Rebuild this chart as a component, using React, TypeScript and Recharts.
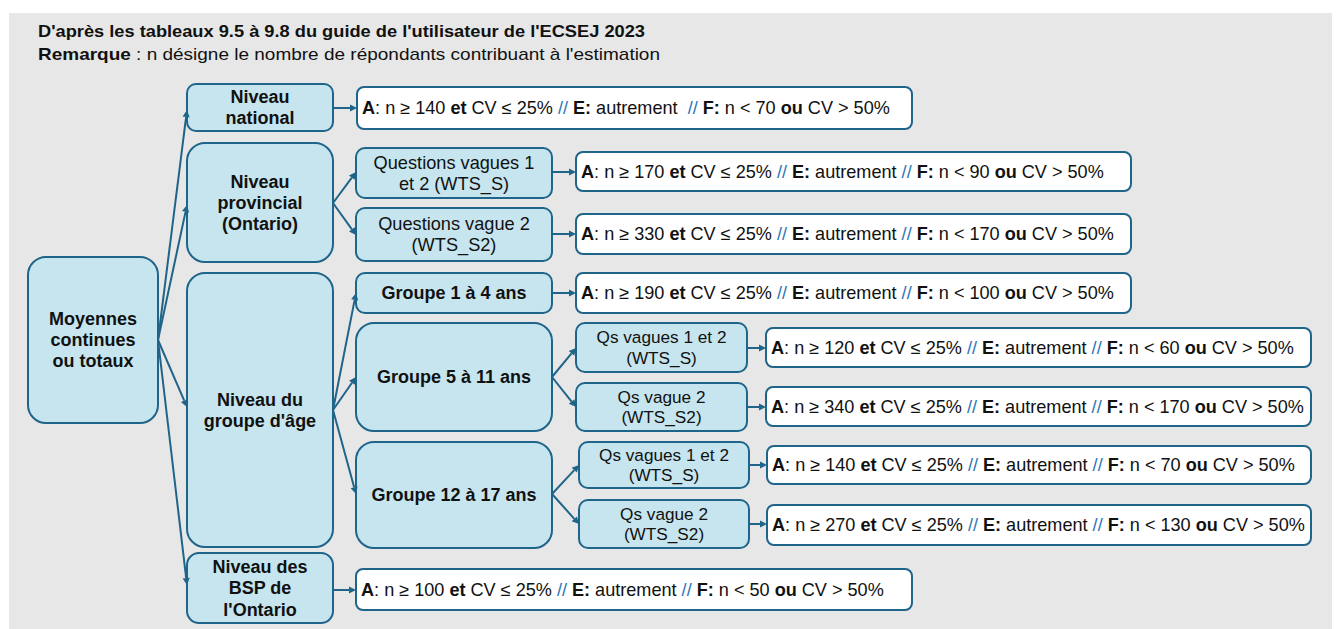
import React from 'react';
import { ComposedChart, XAxis, YAxis, ReferenceArea, ReferenceLine, Scatter } from 'recharts';

// ---------------- DATA ----------------
const headerLines = [
  "D'après les tableaux 9.5 à 9.8 du guide de l'utilisateur de l'ECSEJ 2023",
  "n désigne le nombre de répondants contribuant à l'estimation",
];
const noteLabel = 'Remarque';
const rootLabel = ['Moyennes', 'continues', 'ou totaux'];
const levelLabels = [
  ['Niveau', 'national'],
  ['Niveau', 'provincial', '(Ontario)'],
  ['Niveau du', "groupe d'âge"],
  ['Niveau des', 'BSP de', "l'Ontario"],
];
const provincialLabels = [
  ['Questions vagues 1', 'et 2 (WTS_S)'],
  ['Questions vague 2', '(WTS_S2)'],
];
const ageGroupLabels = ['Groupe 1 à 4 ans', 'Groupe 5 à 11 ans', 'Groupe 12 à 17 ans'];
const waveLabels = [
  ['Qs vagues 1 et 2', '(WTS_S)'],
  ['Qs vague 2', '(WTS_S2)'],
];
const criteriaNames = ['national', 'prov1', 'prov2', 'age1', 'age5w1', 'age5w2', 'age12w1', 'age12w2', 'bsp'];
const aThresholds = [140, 170, 330, 190, 120, 340, 140, 270, 100];
const fThresholds = [70, 90, 170, 100, 60, 170, 70, 130, 50];
const cvLimitA = 25;
const cvLimitF = 50;

// ---------------- LAYOUT / STYLE ----------------
const W = 1336;
const H = 629;
const FONT = "'Liberation Sans', Arial, sans-serif";
const NARROW = "'Liberation Sans Narrow', 'Arial Narrow', 'Liberation Sans', sans-serif";
const STROKE = '#1f6489';
const FILL = '#c6e5ee';
const BG = '#e7e7e7';
const SEP = '#2e75b6';
const INK = '#111111';

type Box = { x1: number; x2: number; y1: number; y2: number; r: number };
const box = (x1: number, x2: number, y1: number, y2: number, r: number): Box => ({ x1, x2, y1, y2, r });

const rootBox = box(28, 158, 257, 423, 18);
const levelBoxes = [box(187, 333, 84, 131, 9), box(187, 333, 143, 262, 18), box(187, 333, 273, 547, 18), box(187, 333, 553, 623, 12)];
const provBoxes = [box(356, 552, 148, 198, 9), box(356, 552, 208, 261, 9)];
const ageBoxes = [box(356, 552, 273, 313, 9), box(356, 552, 323, 431, 18), box(356, 552, 442, 548, 18)];
const wave5Boxes = [box(576, 747, 323, 372, 9), box(576, 747, 383, 431, 9)];
const wave12Boxes = [box(579, 749, 442, 488, 9), box(579, 749, 500, 548, 9)];
const critBoxes: Record<string, Box> = {
  national: box(357, 912, 87, 129, 7),
  prov1: box(576, 1131, 152, 191, 7),
  prov2: box(576, 1131, 214, 254, 7),
  age1: box(576, 1131, 273, 313, 7),
  age5w1: box(766, 1311, 328, 367, 7),
  age5w2: box(766, 1311, 387, 426, 7),
  age12w1: box(767, 1311, 446, 484, 7),
  age12w2: box(767, 1311, 505, 545, 7),
  bsp: box(356, 912, 569, 610, 7),
};

type Edge = [number, number, number, number];
const edges: Edge[] = [
  [158, 340, 187, 110], [158, 340, 187, 205], [158, 340, 187, 407], [158, 340, 187, 585],
  [333, 203, 356, 172], [333, 203, 356, 235],
  [333, 410, 356, 293], [333, 410, 356, 377], [333, 410, 356, 494],
  [552, 377, 576, 348], [552, 377, 576, 407],
  [552, 494, 579, 465], [552, 494, 579, 524],
  [333, 108, 357, 108], [552, 172, 576, 172], [552, 234, 576, 234], [552, 293, 576, 293],
  [747, 348, 766, 348], [747, 407, 766, 407], [749, 465, 767, 465], [749, 524, 767, 524],
  [333, 590, 356, 590],
];

// ---------------- RENDERERS ----------------
const NodeShape = (p: any, lines: string[], bold: boolean, r: number, lh: number, size: number) => {
  const { x, y, width, height } = p;
  const cx = x + width / 2;
  const cy = y + height / 2;
  const start = cy - ((lines.length - 1) * lh) / 2;
  return (
    <g>
      <rect x={x} y={y} width={width} height={height} rx={r} ry={r} fill={FILL} stroke={STROKE} strokeWidth={2} />
      {lines.map((t, i) => (
        <text key={i} x={cx} y={start + i * lh} textAnchor="middle" dominantBaseline="central"
          fontFamily={FONT} fontSize={size} fontWeight={bold ? 700 : 400} fill={INK}>
          {t}
        </text>
      ))}
    </g>
  );
};

const CritShape = (p: any, a: number, f: number, extraSpace: boolean, r: number) => {
  const { x, y, width, height } = p;
  const cy = y + height / 2;
  return (
    <g>
      <rect x={x} y={y} width={width} height={height} rx={r} ry={r} fill="#ffffff" stroke={STROKE} strokeWidth={2} />
      <text x={x + 5} y={cy} dominantBaseline="central" fontFamily={FONT} fontSize={18.1} fill={INK} style={{ whiteSpace: 'pre' }}>
        <tspan fontWeight={700}>A</tspan>
        <tspan>{`: n ≥ ${a} `}</tspan>
        <tspan fontWeight={700}>et</tspan>
        <tspan>{` CV ≤ ${cvLimitA}% `}</tspan>
        <tspan fill={SEP}>//</tspan>
        <tspan> </tspan>
        <tspan fontWeight={700}>E:</tspan>
        <tspan>{extraSpace ? ' autrement  ' : ' autrement '}</tspan>
        <tspan fill={SEP}>//</tspan>
        <tspan> </tspan>
        <tspan fontWeight={700}>F:</tspan>
        <tspan>{` n < ${f} `}</tspan>
        <tspan fontWeight={700}>ou</tspan>
        <tspan>{` CV > ${cvLimitF}%`}</tspan>
      </text>
    </g>
  );
};

const ArrowShape = (p: any) => {
  const { x1, y1, x2, y2 } = p;
  const dx = x2 - x1;
  const dy = y2 - y1;
  const len = Math.sqrt(dx * dx + dy * dy) || 1;
  const ux = dx / len;
  const uy = dy / len;
  const hl = 7;
  const hw = 3.6;
  const bx = x2 - ux * hl;
  const by = y2 - uy * hl;
  const pts = `${x2},${y2} ${bx - uy * hw},${by + ux * hw} ${bx + uy * hw},${by - ux * hw}`;
  return (
    <g>
      <line x1={x1} y1={y1} x2={bx} y2={by} stroke={STROKE} strokeWidth={2} />
      <polygon points={pts} fill={STROKE} />
    </g>
  );
};

const BackgroundShape = (p: any) => {
  const { x, y, width, height } = p;
  return (
    <g>
      <rect x={x} y={y} width={width} height={height} fill={BG} />
      <text x={38} y={31} dominantBaseline="central" fontFamily={NARROW} fontSize={17} fontWeight={700} fill={INK}
        textLength={607} lengthAdjust="spacingAndGlyphs">
        {headerLines[0]}
      </text>
      <text x={38} y={54} dominantBaseline="central" fontFamily={NARROW} fontSize={17} fill={INK}
        textLength={622} lengthAdjust="spacingAndGlyphs" style={{ whiteSpace: 'pre' }}>
        <tspan fontWeight={700}>{noteLabel}</tspan>
        <tspan>{` : ${headerLines[1]}`}</tspan>
      </text>
    </g>
  );
};

const anchors = [{ x: 0, y: 0 }, { x: W, y: H }];

const area = (key: string, b: Box, shape: (p: any) => React.ReactElement) => (
  <ReferenceArea key={key} x1={b.x1} x2={b.x2} y1={b.y1} y2={b.y2} ifOverflow="visible" shape={shape} />
);

export default function App() {
  const nodes: React.ReactElement[] = [];
  nodes.push(area('root', rootBox, (p) => NodeShape(p, rootLabel, true, rootBox.r, 21, 18)));
  levelBoxes.forEach((b, i) =>
    nodes.push(area(`lvl${i}`, b, (p) => NodeShape(p, levelLabels[i], true, b.r, i === 3 ? 21.5 : 21, 18))));
  provBoxes.forEach((b, i) => nodes.push(area(`prov${i}`, b, (p) => NodeShape(p, provincialLabels[i], false, b.r, 21, 18.2))));
  ageBoxes.forEach((b, i) => nodes.push(area(`age${i}`, b, (p) => NodeShape(p, [ageGroupLabels[i]], true, b.r, 21, 18))));
  wave5Boxes.forEach((b, i) => nodes.push(area(`w5${i}`, b, (p) => NodeShape(p, waveLabels[i], false, b.r, 20.5, 17.2))));
  wave12Boxes.forEach((b, i) => nodes.push(area(`w12${i}`, b, (p) => NodeShape(p, waveLabels[i], false, b.r, 20.5, 17.2))));
  criteriaNames.forEach((name, i) => {
    const b = critBoxes[name];
    nodes.push(area(`crit${i}`, b, (p) => CritShape(p, aThresholds[i], fThresholds[i], name === 'national', b.r)));
  });

  return (
    <div style={{ position: 'absolute', left: 0, top: 0, width: W, height: H, background: '#ffffff' }}>
      <ComposedChart width={W} height={H} margin={{ top: 0, right: 0, bottom: 0, left: 0 }} data={anchors}>
        <XAxis type="number" dataKey="x" domain={[0, W]} hide allowDataOverflow />
        <YAxis type="number" dataKey="y" domain={[0, H]} reversed hide allowDataOverflow width={0} />
        <ReferenceArea x1={9} x2={1332} y1={13} y2={H} ifOverflow="visible" shape={BackgroundShape} />
        {edges.map((e, i) => (
          <ReferenceLine key={`e${i}`} segment={[{ x: e[0], y: e[1] }, { x: e[2], y: e[3] }]} ifOverflow="visible" shape={ArrowShape} />
        ))}
        {nodes}
        <Scatter dataKey="y" fill="none" isAnimationActive={false} shape={() => <g />} />
      </ComposedChart>
    </div>
  );
}
